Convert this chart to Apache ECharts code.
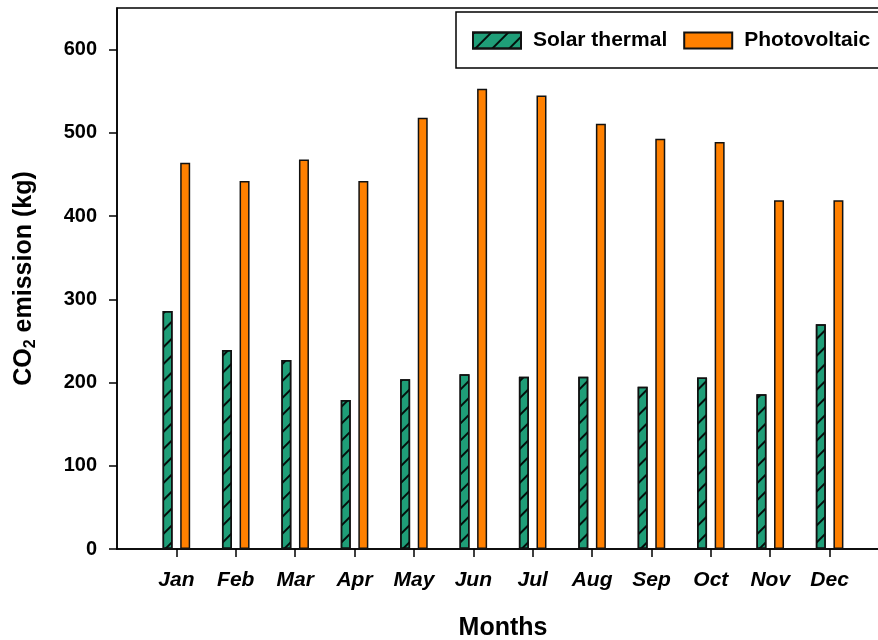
<!DOCTYPE html>
<html>
<head>
<meta charset="utf-8">
<script src="https://cdn.jsdelivr.net/npm/echarts@6/dist/echarts.min.js"></script>
<style>
  html, body { margin: 0; padding: 0; background: #fff; }
  #chart { width: 878px; height: 640px; }
</style>
</head>
<body>
<div id="chart"></div>
<script>
// values
const months = ['Jan', 'Feb', 'Mar', 'Apr', 'May', 'Jun', 'Jul', 'Aug', 'Sep', 'Oct', 'Nov', 'Dec'];
const solarThermal = [286, 239, 227, 179, 204, 210, 207, 207, 195, 206, 186, 270];
const photovoltaic = [464, 442, 468, 442, 518, 553, 545, 511, 493, 489, 419, 419];
const yTicks = [0, 100, 200, 300, 400, 500, 600];

// empty slot at both ends so the first month sits one step in from the axis
const cats = [''].concat(months, ['']);
const pad = arr => [null].concat(arr, [null]);

const chart = echarts.init(document.getElementById('chart'));
const font = '"Liberation Sans", Arial, sans-serif';

chart.setOption({
  backgroundColor: '#fff',
  animation: false,
  textStyle: { fontFamily: font },
  grid: {
    left: 117, right: -11, top: 8, bottom: 91,
    outerBoundsMode: 'none',
    containLabel: false,
    show: true, borderColor: '#000', borderWidth: 1.5
  },
  graphic: [{
    type: 'rect',
    shape: { x: 456, y: 12, width: 440, height: 56 },
    style: { fill: '#fff', stroke: '#000', lineWidth: 1.5 },
    z: 10
  }],
  legend: {
    left: 472, top: 30, padding: 0,
    z: 20,
    itemWidth: 48, itemHeight: 16, itemGap: 16,
    icon: 'rect',
    textStyle: { fontFamily: font, fontWeight: 'bold', fontSize: 21, color: '#000', padding: [0, 0, 0, 7] },
    data: ['Solar thermal', 'Photovoltaic']
  },
  xAxis: {
    type: 'category',
    data: cats,
    boundaryGap: false,
    axisLine: { lineStyle: { color: '#000', width: 1.5 } },
    axisTick: { length: 8, interval: i => i > 0 && i < cats.length - 1, lineStyle: { color: '#000', width: 1.5 } },
    axisLabel: { margin: 21, fontFamily: font, fontWeight: 'bold', fontStyle: 'italic', fontSize: 21, color: '#000' },
    splitLine: { show: false },
    name: 'Months',
    nameLocation: 'middle',
    nameGap: 67,
    nameTextStyle: { fontFamily: font, fontWeight: 'bold', fontSize: 25, color: '#000' }
  },
  yAxis: {
    type: 'value',
    min: 0, max: 650, interval: 100,
    axisLine: { show: true, lineStyle: { color: '#000', width: 1.5 } },
    axisTick: { show: true, length: 8, customValues: yTicks, lineStyle: { color: '#000', width: 1.5 } },
    axisLabel: { margin: 20, customValues: yTicks, fontFamily: font, fontWeight: 'bold', fontSize: 20, color: '#000' },
    splitLine: { show: false },
    name: '{a|CO}{s|2}{a| emission (kg)}',
    nameLocation: 'middle',
    nameGap: 78,
    nameTextStyle: {
      rich: {
        a: { fontFamily: font, fontWeight: 'bold', fontSize: 25, color: '#000', lineHeight: 30 },
        s: { fontFamily: font, fontWeight: 'bold', fontSize: 16, color: '#000', lineHeight: 16, verticalAlign: 'bottom' }
      }
    }
  },
  series: [
    {
      name: 'Solar thermal',
      type: 'bar',
      data: pad(solarThermal),
      barWidth: 10,
      barGap: '76%',
      itemStyle: {
        color: '#1f9e78',
        borderColor: '#111',
        borderWidth: 1.5,
        decal: {
          symbol: 'rect',
          symbolSize: 1,
          dashArrayX: [1, 0],
          dashArrayY: [1.4, 10],
          rotation: -Math.PI / 4,
          color: 'rgba(0,0,0,0.9)'
        }
      }
    },
    {
      name: 'Photovoltaic',
      type: 'bar',
      data: pad(photovoltaic),
      barWidth: 10,
      itemStyle: { color: '#ff8000', borderColor: '#111', borderWidth: 1.5 }
    }
  ]
});
</script>
</body>
</html>
